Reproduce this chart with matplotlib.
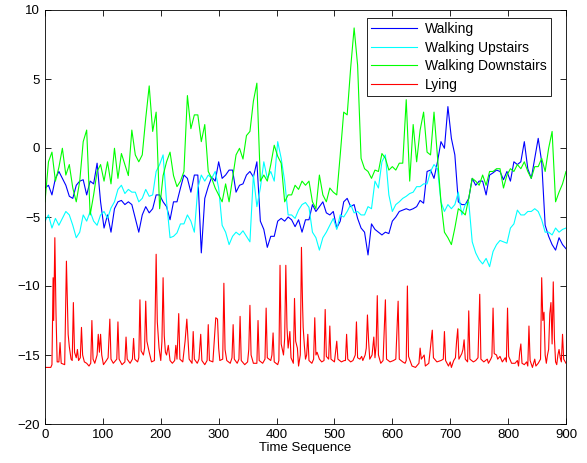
import numpy as np
import matplotlib
matplotlib.use('Agg')
import matplotlib.pyplot as plt

plt.rcParams['font.family'] = ['Liberation Sans', 'DejaVu Sans']
plt.rcParams['font.size'] = 9.5

# sample positions (every 6 time steps)
t = np.arange(0, 901, 6)

walking = [-2.9, -2.7, -3.4, -2.2, -1.7, -2.2, -2.7, -3.5, -3.65, -2.7,
           -2.4, -2.3, -3.4, -2.4, -2.6, -1.1, -3.9, -5.8, -4.85, -6.1,
           -4.4, -3.9, -3.8, -4.1, -3.9, -4.1, -5.1, -6.1, -4.85, -4.25,
           -4.7, -4.4, -3.4, -3.4, -3.9, -4.25, -5.2, -3.9, -3.9, -2.9,
           -1.96, -2.2, -3.2, -1.96, -1.96, -7.6, -3.65, -2.8, -2.1, -2.4,
           -1.0, -2.2, -1.96, -1.6, -1.6, -3.2, -2.7, -2.6, -1.96, -1.7,
           -2.1, -1.0, -5.3, -5.9, -7.2, -6.4, -6.4, -5.3, -5.1, -5.3,
           -5.0, -5.2, -5.7, -5.2, -6.1, -5.2, -5.2, -4.1, -4.6, -4.25,
           -3.9, -4.7, -4.85, -4.6, -5.8, -5.3, -3.9, -3.65, -4.25, -4.1,
           -5.1, -5.8, -6.1, -7.75, -5.5, -5.9, -6.1, -6.3, -6.1, -6.2,
           -5.3, -5.0, -4.6, -4.5, -4.4, -4.5, -4.4, -4.25, -3.8, -4.0,
           -1.7, -1.6, -2.2, -1.0, 0.46, -0.02, 3.0, 0.7, -0.5, -3.9,
           -4.1, -4.1, -3.65, -2.2, -2.7, -2.4, -2.4, -3.4, -1.96, -1.8,
           -1.6, -1.7, -2.3, -1.7, -2.4, -1.0, -1.2, -1.0, 0.46, -1.5,
           -2.2, -0.75, 0.7, -1.0, -5.6, -6.4, -7.0, -7.4, -6.5, -7.0,
           -7.3]

upstairs = [-5.3, -4.85, -5.8, -5.1, -5.6, -5.1, -4.6, -4.85, -5.6, -6.5,
            -6.1, -4.85, -5.3, -4.6, -5.3, -5.6, -4.85, -4.6, -5.1, -4.35,
            -3.9, -3.0, -2.7, -3.3, -3.0, -3.2, -3.2, -3.9, -3.65, -3.0,
            -3.5, -3.4, -1.7, -1.2, -0.5, -3.9, -6.5, -6.4, -6.15, -5.5,
            -5.5, -4.85, -5.3, -6.1, -2.9, -1.96, -2.4, -1.96, -2.2, -1.7,
            -2.9, -5.6, -6.1, -7.0, -6.4, -6.1, -6.3, -6.0, -6.4, -6.8,
            -1.96, -4.25, -2.9, -1.0, -2.2, -1.7, -2.4, 0.46, -0.75, -2.4,
            -4.85, -4.85, -5.1, -4.5, -4.1, -3.95, -4.3, -6.1, -6.5, -7.4,
            -6.5, -6.1, -5.6, -5.1, -5.9, -4.85, -5.0, -4.6, -4.1, -4.7,
            -4.6, -4.85, -4.85, -4.25, -4.4, -2.4, -2.9, -1.0, -0.5, -3.4,
            -4.6, -4.1, -3.9, -3.65, -3.5, -3.3, -3.2, -2.8, -2.8, -2.6,
            -2.6, -1.7, -1.2, -1.5, -3.9, -4.6, -4.1, -4.4, -4.1, -3.2,
            -4.85, -4.1, -3.9, -6.8, -7.6, -8.1, -8.4, -8.0, -8.6, -7.5,
            -7.0, -6.7, -6.8, -6.9, -5.8, -5.5, -4.5, -4.85, -4.85, -4.6,
            -4.6, -4.4, -4.6, -5.2, -6.1, -6.1, -6.3, -5.8, -6.1, -5.9,
            -5.8]

downstairs = [-3.9, -1.0, -0.3, -2.4, -1.4, -0.02, -1.96, -1.2, -2.9, -3.9,
              -2.4, 0.46, 1.3, -4.85, -3.4, -1.7, -1.2, -2.4, -1.0, -2.6,
              -0.02, -2.2, -0.4, -1.2, -2.0, 1.3, -0.5, -1.0, -0.5, 2.15,
              4.5, 1.2, 2.6, -4.4, -2.0, -1.0, -0.3, -2.0, -2.8, -2.4,
              -1.7, 3.8, 1.4, 2.4, 2.4, 0.46, 1.7, -1.7, -2.2, -2.9,
              -3.4, -3.9, -2.6, -3.9, -2.2, -0.5, -0.02, -0.8, 0.9, 1.2,
              3.4, 4.7, -2.4, -1.96, -2.4, -1.2, 0.2, -0.6, -1.1, -3.9,
              -3.4, -3.4, -2.7, -3.0, -2.4, -2.7, -2.4, -3.9, -4.4, -1.96,
              -3.4, -3.9, -2.9, -3.2, -3.4, -0.5, 2.6, 2.4, 5.8, 8.7,
              6.0, -0.75, -1.5, -1.7, -2.2, -1.6, -1.7, -0.4, -0.75, -1.6,
              -1.35, -1.6, -1.1, -1.1, 3.5, -2.4, 1.7, -1.0, 1.3, 2.6,
              -0.3, -0.5, 2.6, -0.7, -3.9, -6.1, -6.5, -7.0, -5.8, -4.4,
              -4.6, -4.85, -3.65, -2.2, -2.4, -2.7, -1.96, -2.7, -1.7, -1.7,
              -1.5, -1.5, -2.9, -1.96, -1.5, -1.7, -1.2, -1.5, -1.0, -1.7,
              -2.2, -1.35, -1.35, -0.75, -1.7, -0.02, 1.2, -3.9, -3.2, -2.6,
              -1.7]

# lying: time steps and values read at the spikes and along the baseline
lying_t = [0, 10, 12, 14, 15, 17, 19, 21, 24, 26, 28, 34, 37, 40, 42, 45, 47, 49, 51, 54,
           56, 58, 61, 63, 65, 68, 72, 76, 79, 81, 83, 86, 90, 92, 94, 96, 98, 101, 106, 109,
           112, 114, 118, 122, 124, 126, 128, 133, 138, 140, 142, 147, 151, 153, 155, 160, 162, 164, 166, 170,
           172, 174, 176, 180, 184, 189, 192, 194, 197, 200, 202, 204, 206, 208, 210, 213, 216, 220, 224, 226,
           228, 231, 233, 238, 242, 245, 247, 249, 254, 256, 258, 263, 266, 269, 271, 276, 280, 282, 284, 290,
           294, 295, 298, 300, 302, 307, 309, 311, 314, 320, 323, 325, 327, 332, 335, 337, 339, 345, 350, 352,
           354, 356, 360, 366, 368, 370, 376, 380, 382, 384, 390, 392, 394, 396, 402, 404, 406, 408, 412, 414,
           416, 418, 420, 423, 425, 429, 431, 433, 436, 438, 441, 443, 445, 446, 448, 450, 452, 454, 456, 461,
           464, 466, 468, 470, 474, 478, 482, 484, 486, 490, 492, 494, 500, 504, 506, 512, 517, 519, 521, 523,
           528, 532, 536, 538, 540, 544, 547, 549, 553, 555, 557, 559, 561, 565, 568, 570, 572, 574, 576, 580,
           584, 588, 590, 596, 602, 606, 610, 612, 618, 622, 624, 626, 628, 634, 640, 646, 648, 650, 655, 657,
           663, 667, 669, 671, 677, 684, 688, 690, 692, 697, 700, 702, 706, 709, 711, 713, 715, 720, 722, 724,
           726, 730, 732, 734, 740, 744, 748, 751, 753, 758, 764, 766, 770, 772, 774, 776, 780, 782, 786, 790,
           795, 797, 799, 801, 806, 812, 816, 818, 820, 822, 824, 828, 832, 834, 836, 838, 842, 846, 848, 852,
           856, 858, 860, 862, 864, 866, 868, 870, 872, 874, 876, 878, 880, 882, 884, 886, 888, 890, 892, 894,
           896, 900]
lying = [-15.9, -15.9, -15.7, -9.4, -12.5, -6.5, -12.0, -15.5, -15.5, -14.1, -15.6, -15.7, -8.2, -13.5, -14.4, -15.3, -15.4, -11.2, -14.8, -15.2,
         -14.6, -15.4, -15.2, -13.0, -15.0, -15.5, -15.6, -15.8, -15.6, -12.5, -15.3, -15.6, -15.0, -13.5, -14.8, -13.5, -15.0, -15.7, -15.4, -15.2,
         -12.4, -15.3, -15.6, -15.4, -15.3, -12.6, -15.3, -15.7, -15.5, -13.7, -15.3, -15.6, -15.3, -13.8, -15.3, -15.5, -15.2, -11.0, -14.7, -15.0,
         -14.5, -11.1, -14.0, -14.8, -15.5, -15.4, -7.7, -12.6, -14.5, -15.4, -14.0, -9.4, -13.6, -14.8, -15.0, -14.3, -15.4, -15.6, -15.4, -14.3,
         -15.3, -12.0, -15.3, -15.5, -14.0, -12.4, -13.8, -15.3, -15.6, -13.3, -15.3, -15.6, -15.3, -13.5, -15.4, -15.7, -15.4, -12.8, -15.4, -15.5,
         -13.0, -12.3, -12.4, -14.5, -15.4, -15.3, -9.8, -14.6, -15.4, -15.6, -15.2, -12.8, -15.3, -15.6, -15.3, -12.2, -15.4, -15.7, -15.5, -14.6,
         -11.4, -15.0, -15.6, -15.6, -12.5, -15.4, -15.6, -15.3, -11.6, -15.2, -15.4, -15.0, -13.4, -15.5, -15.7, -15.4, -8.5, -14.2, -15.0, -13.8,
         -8.5, -13.0, -14.5, -13.3, -15.2, -15.6, -10.9, -14.0, -14.5, -15.8, -15.0, -7.2, -11.5, -13.0, -14.3, -15.3, -15.0, -13.5, -15.4, -15.6,
         -15.3, -12.3, -15.0, -14.8, -15.3, -15.5, -15.4, -11.7, -15.1, -15.3, -12.9, -15.3, -15.5, -14.0, -15.3, -15.5, -15.4, -15.4, -13.5, -15.3,
         -15.5, -15.4, -15.0, -12.6, -15.2, -15.3, -15.1, -15.4, -15.0, -14.5, -12.1, -14.0, -15.3, -15.0, -13.7, -15.2, -14.3, -10.7, -15.0, -15.6,
         -15.4, -11.0, -15.3, -15.5, -15.4, -15.3, -11.1, -15.3, -15.5, -15.6, -15.4, -10.0, -15.1, -15.8, -15.9, -15.6, -14.5, -15.3, -15.0, -15.8,
         -15.6, -14.0, -13.2, -15.2, -15.5, -15.4, -15.3, -13.3, -15.4, -15.8, -15.5, -15.9, -15.4, -15.2, -14.0, -13.1, -15.3, -14.9, -14.6, -13.9,
         -15.3, -15.5, -11.8, -15.3, -15.5, -15.4, -15.2, -10.6, -15.3, -15.5, -15.3, -15.6, -15.3, -15.1, -11.6, -14.9, -15.0, -15.3, -15.1, -15.5,
         -15.2, -15.5, -11.6, -15.1, -15.6, -15.6, -15.4, -15.8, -14.8, -14.2, -15.6, -15.7, -15.5, -15.8, -12.9, -15.4, -15.9, -15.3, -15.8, -15.6,
         -15.3, -9.4, -12.5, -11.9, -15.0, -15.6, -15.0, -14.6, -12.0, -11.2, -14.2, -9.7, -13.8, -15.5, -15.7, -15.0, -14.6, -15.2, -15.5, -13.5,
         -15.3, -15.6]

fig = plt.figure(figsize=(5.87, 4.63), dpi=100)
ax = fig.add_axes([45 / 587, 1 - 424 / 463, 521 / 587, 414 / 463])

ax.plot(t, walking, color=(0, 0, 1), linewidth=0.8, label='Walking')
ax.plot(t, upstairs, color=(0, 1, 1), linewidth=0.8, label='Walking Upstairs')
ax.plot(t, downstairs, color=(0, 1, 0), linewidth=0.8, label='Walking Downstairs')
ax.plot(lying_t, lying, color=(1, 0, 0), linewidth=0.8, label='Lying')

ax.set_xlim(0, 900)
ax.set_ylim(-20, 10)
ax.set_xticks(range(0, 901, 100))
ax.set_yticks(range(-20, 11, 5))
ax.tick_params(direction='in', top=True, right=True, length=4, width=0.6)
for s in ax.spines.values():
    s.set_linewidth(0.6)
ax.set_xlabel('Time Sequence', labelpad=1)

leg = ax.legend(loc='upper right', bbox_to_anchor=((551 - 45) / 521, (424 - 18) / 414),
                borderaxespad=0, fancybox=False, framealpha=1, edgecolor='black',
                fontsize=10, handlelength=3.3, labelspacing=0.33, borderpad=0.3,
                handletextpad=0.6)
leg.get_frame().set_linewidth(0.6)

plt.savefig('out.png', dpi=100)
plt.close(fig)
